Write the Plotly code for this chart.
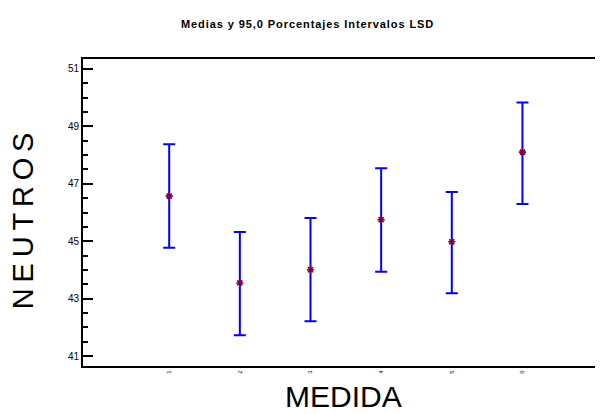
import plotly.graph_objects as go

categories = [1, 2, 3, 4, 5, 6]
tick_labels = ["1", "2", "3", "4", "5", "6"]
means = [46.57, 43.55, 44.01, 45.75, 44.98, 48.10]
upper = [48.37, 45.32, 45.81, 47.54, 46.71, 49.83]
lower = [44.77, 41.73, 42.22, 43.94, 43.19, 46.30]

title_text = "Medias y 95,0 Porcentajes Intervalos LSD"
x_title = "MEDIDA"
y_title = "NEUTROS"

err_plus = [u - m for u, m in zip(upper, means)]
err_minus = [m - l for m, l in zip(means, lower)]

fig = go.Figure()
fig.add_trace(go.Scatter(
    x=categories, y=means, mode="markers",
    marker=dict(symbol="asterisk-open", size=6, color="#800040",
                line=dict(color="#800040", width=1.6)),
    error_y=dict(type="data", symmetric=False, array=err_plus, arrayminus=err_minus,
                 color="#0000FF", thickness=2, width=6),
    showlegend=False,
))
# invisible trace to activate right-side tick axis
fig.add_trace(go.Scatter(x=[categories[0]], y=[means[0]], yaxis="y2", mode="markers",
                         marker=dict(opacity=0), showlegend=False, hoverinfo="skip"))

yr = [40.66, 51.34]
fig.update_layout(
    width=595, height=406,
    margin=dict(l=75, r=0, t=51, b=48),
    paper_bgcolor="white", plot_bgcolor="white",
    font=dict(family="Liberation Sans, Arial, sans-serif", color="black"),
    xaxis=dict(range=[-0.22, 7.14], tickmode="array", tickvals=categories, ticktext=tick_labels,
               tickangle=-90, tickfont=dict(size=6), ticks="", showgrid=False, zeroline=False,
               showline=True, linecolor="black", linewidth=2, mirror=True),
    yaxis=dict(range=yr, tickmode="array", tickvals=[41, 43, 45, 47, 49, 51],
               ticks="inside", ticklen=10, tickwidth=2, tickcolor="black",
               tickfont=dict(size=10), showgrid=False, zeroline=False,
               showline=True, linecolor="black", linewidth=2,
               minor=dict(dtick=0.5, tick0=41, ticks="inside", ticklen=5, tickwidth=2,
                          tickcolor="black", showgrid=False)),
    yaxis2=dict(range=yr, overlaying="y", side="right", tickmode="array",
                tickvals=[41, 43, 45, 47, 49, 51], ticks="inside", ticklen=5, tickwidth=2,
                tickcolor="black", showticklabels=False, showgrid=False, zeroline=False,
                showline=False),
    annotations=[
        dict(text="<b>" + "\u200a".join(title_text) + "</b>", xref="paper", yref="paper",
             x=0.431, y=1.114, xanchor="center", yanchor="middle", showarrow=False,
             font=dict(size=11)),
        dict(text=x_title, xref="paper", yref="paper", x=0.5, y=-0.0995,
             xanchor="center", yanchor="middle", showarrow=False, font=dict(size=30)),
        dict(text="\u2009".join(y_title), xref="paper", yref="paper", x=-0.1154, y=0.475,
             xanchor="center", yanchor="middle", textangle=-90, showarrow=False,
             font=dict(size=29)),
    ],
)
fig.write_html("out.html")
